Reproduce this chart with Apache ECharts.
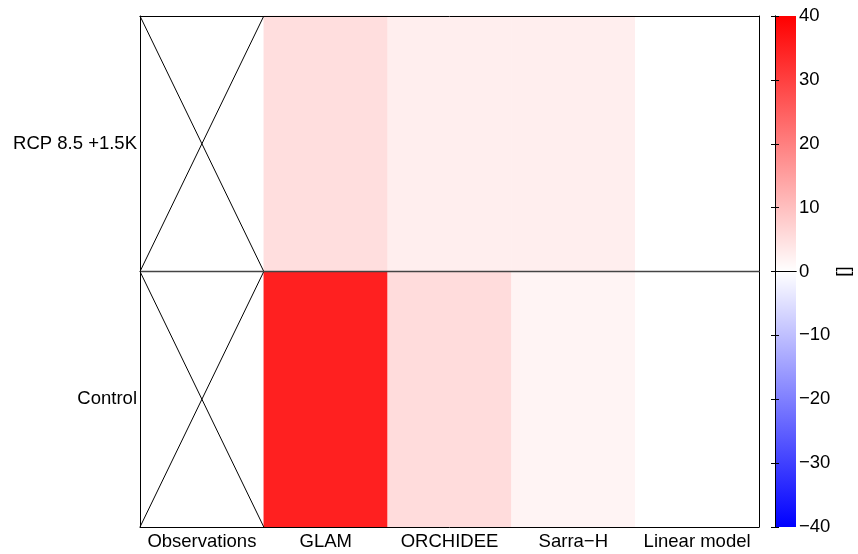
<!DOCTYPE html>
<html><head><meta charset="utf-8">
<script src="https://cdn.jsdelivr.net/npm/echarts@6/dist/echarts.min.js"></script>
<style>html,body{margin:0;padding:0;background:#fff}#c{width:858px;height:554px}</style>
</head><body><div id="c"></div>
<script>
const models = ['Observations', 'GLAM', 'ORCHIDEE', 'Sarra\u2212H', 'Linear model'];
const scenarios = ['Control', 'RCP 8.5 +1.5K'];
const controlValues = [null, 35.0, 5.5, 1.7, 0];
const rcpValues = [null, 5.2, 2.7, 2.7, 0];
const colorbarMin = -40;
const colorbarMax = 40;
const colorbarStep = 10;
const colorbarColors = ['#0000ff', '#ffffff', '#ff0000'];
const colorbarUnit = '[]';

const FONT = 'Liberation Sans, Arial, Helvetica, sans-serif';
const FS = 18.5;

const heatData = [];
const missing = [];
[controlValues, rcpValues].forEach((row, yi) => {
  row.forEach((v, xi) => {
    if (v === null) missing.push([xi, yi]);
    else heatData.push([xi, yi, v]);
  });
});

function fmt(v) { return v < 0 ? '\u2212' + Math.abs(v) : String(v); }

const chart = echarts.init(document.getElementById('c'));
const axisLine = { show: true, lineStyle: { color: '#000', width: 1 } };
const lab = { color: '#000', fontFamily: FONT, fontSize: FS };

chart.setOption({
  animation: false,
  backgroundColor: '#fff',
  grid: [
    { left: 140, top: 16, right: 99, bottom: 27 },
    { left: 775, top: 16, width: 21, bottom: 27 }
  ],
  visualMap: {
    type: 'continuous', show: false, seriesIndex: 0,
    min: colorbarMin, max: colorbarMax,
    inRange: { color: colorbarColors }
  },
  xAxis: [
    { type: 'category', gridIndex: 0, data: models, position: 'bottom', z: 10,
      axisLine, axisTick: { inside: true, length: 6, alignWithLabel: true, lineStyle: { color: '#000' } },
      axisLabel: Object.assign({ margin: 5, interval: 0 }, lab), splitLine: { show: false } },
    { type: 'category', gridIndex: 0, data: models, position: 'top', z: 10,
      axisLine, axisTick: { inside: true, length: 6, alignWithLabel: true, lineStyle: { color: '#000' } },
      axisLabel: { show: false }, splitLine: { show: false } },
    { type: 'value', gridIndex: 1, min: 0, max: 1, position: 'bottom', z: 10,
      axisLine, axisTick: { show: false }, axisLabel: { show: false }, splitLine: { show: false } },
    { type: 'value', gridIndex: 1, min: 0, max: 1, position: 'top', z: 10,
      axisLine, axisTick: { show: false }, axisLabel: { show: false }, splitLine: { show: false } }
  ],
  yAxis: [
    { type: 'category', gridIndex: 0, data: scenarios, position: 'left', z: 10,
      axisLine, axisTick: { inside: true, length: 6, alignWithLabel: true, lineStyle: { color: '#000' } },
      axisLabel: Object.assign({ margin: 3 }, lab), splitLine: { show: false } },
    { type: 'category', gridIndex: 0, data: scenarios, position: 'right', z: 10,
      axisLine, axisTick: { inside: true, length: 6, alignWithLabel: true, lineStyle: { color: '#000' } },
      axisLabel: { show: false }, splitLine: { show: false } },
    { type: 'value', gridIndex: 1, min: colorbarMin, max: colorbarMax, interval: colorbarStep, position: 'left', z: 10,
      axisLine, axisTick: { inside: true, length: 4, lineStyle: { color: '#000' } },
      axisLabel: { show: false }, splitLine: { show: false } },
    { type: 'value', gridIndex: 1, min: colorbarMin, max: colorbarMax, interval: colorbarStep, position: 'right', z: 10,
      axisLine, axisTick: { inside: true, length: 4, lineStyle: { color: '#000' } },
      axisLabel: Object.assign({ margin: 3, formatter: fmt }, lab), splitLine: { show: false },
      name: colorbarUnit, nameLocation: 'middle', nameRotate: 90, nameGap: 33,
      nameTextStyle: { color: '#000', fontFamily: FONT, fontSize: FS } }
  ],
  series: [
    { type: 'heatmap', xAxisIndex: 0, yAxisIndex: 0, data: heatData,
      itemStyle: { borderWidth: 0 }, emphasis: { disabled: true } },
    { type: 'custom', xAxisIndex: 0, yAxisIndex: 0, data: missing, z: 5, silent: true,
      renderItem(params, api) {
        const c = api.coord([api.value(0), api.value(1)]);
        const s = api.size([1, 1]);
        const x0 = c[0] - s[0] / 2, x1 = c[0] + s[0] / 2, y0 = c[1] - s[1] / 2, y1 = c[1] + s[1] / 2;
        return { type: 'group', children: [
          { type: 'line', shape: { x1: x0, y1: y0, x2: x1, y2: y1 }, style: { stroke: '#000', lineWidth: 1 } },
          { type: 'line', shape: { x1: x0, y1: y1, x2: x1, y2: y0 }, style: { stroke: '#000', lineWidth: 1 } }
        ] };
      } },
    { type: 'custom', xAxisIndex: 0, yAxisIndex: 0, data: [[0, 0]], z: 6, silent: true,
      renderItem(params, api) {
        const c = api.coord([api.value(0), api.value(1)]);
        const s = api.size([1, 1]);
        const cs = params.coordSys;
        const y = c[1] - s[1] / 2;
        return { type: 'line', shape: { x1: cs.x, y1: y, x2: cs.x + cs.width, y2: y },
          style: { stroke: '#444', lineWidth: 1.5 } };
      } },
    { type: 'custom', xAxisIndex: 2, yAxisIndex: 2, data: [[0, colorbarMax, 1, colorbarMin]], silent: true,
      renderItem(params, api) {
        const p0 = api.coord([api.value(0), api.value(1)]);
        const p1 = api.coord([api.value(2), api.value(3)]);
        return { type: 'rect',
          shape: { x: p0[0], y: p0[1], width: p1[0] - p0[0], height: p1[1] - p0[1] },
          style: { fill: new echarts.graphic.LinearGradient(0, 0, 0, 1, [
            { offset: 0, color: colorbarColors[2] },
            { offset: 0.5, color: colorbarColors[1] },
            { offset: 1, color: colorbarColors[0] }
          ]) } };
      } }
  ]
});
</script>
</body></html>
